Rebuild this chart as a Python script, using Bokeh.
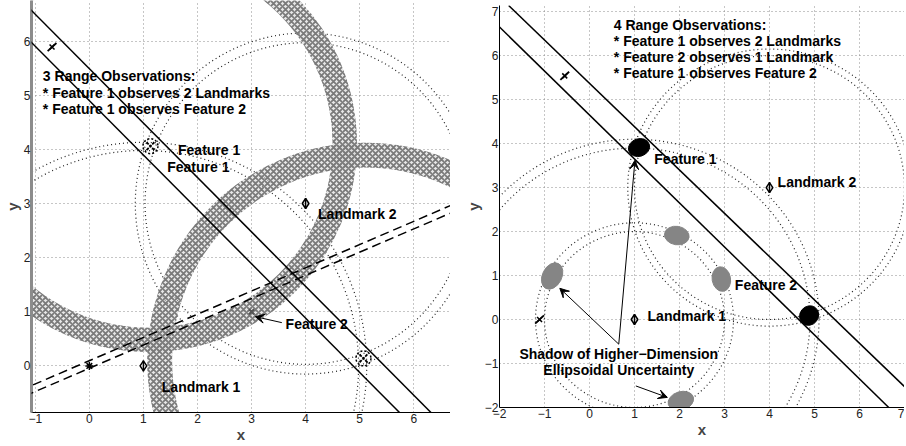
import numpy as np
from bokeh.plotting import figure
from bokeh.layouts import row
from bokeh.models import Slope, Arrow, VeeHead, FixedTicker, Range1d
from bokeh.embed import file_html
from bokeh.resources import INLINE
from bokeh.core.properties import value

FONT = "Liberation Sans"

# ---------------- Left panel data ----------------
left_landmark_x = [1.0, 4.0]
left_landmark_y = [0.0, 3.0]

left_range_cx = [1.0, 1.0, 4.0, 4.0]
left_range_cy = [0.0, 0.0, 3.0, 3.0]
left_range_r = [3.98, 4.13, 2.97, 3.15]

left_band_cx = [1.1, 5.1]
left_band_cy = [4.1, 0.1]
left_band_inner = [3.40, 3.57]
left_band_outer = [3.85, 4.03]

left_solid_slope = [-1.005, -1.004]
left_solid_icpt = [5.49, 4.90]
left_dashed_slope = [0.429, 0.429]
left_dashed_icpt = [0.097, -0.043]

left_feat1_x = [1.13, 5.07]
left_feat1_y = [4.06, 0.14]
left_feat2_x = [3.0]
left_feat2_y = [1.0]
left_origin_x = [0.0]
left_origin_y = [0.0]
left_robot_x = [-0.69]
left_robot_y = [5.89]

left_title = ["3 Range Observations:",
              "* Feature 1 observes 2 Landmarks",
              "* Feature 1 observes Feature 2"]
left_title_x = [-0.86, -0.86, -0.86]
left_title_y = [5.35, 5.04, 4.74]
left_labels = ["Feature 1", "Feature 1", "Landmark 2", "Feature 2", "Landmark 1"]
left_labels_x = [1.64, 1.44, 4.23, 3.63, 1.34]
left_labels_y = [3.99, 3.68, 2.80, 0.77, -0.39]
left_arrow = [(3.56, 0.80, 3.07, 0.91)]

left_xticks = [-1, 0, 1, 2, 3, 4, 5, 6]
left_yticks = [0, 1, 2, 3, 4, 5, 6]

# ---------------- Right panel data ----------------
right_landmark_x = [1.0, 4.0]
right_landmark_y = [0.0, 3.0]

right_range_cx = [1.0, 1.0, 1.0, 1.0, 4.0, 4.0]
right_range_cy = [0.0, 0.0, 0.0, 0.0, 3.0, 3.0]
right_range_r = [2.0, 2.2, 3.9, 4.1, 3.0, 3.15]

right_solid_slope = [-0.985, -1.0]
right_solid_icpt = [5.37, 4.65]

right_feat1_x = [1.10, 4.88]
right_feat1_y = [3.91, 0.09]
right_feat1_w = [0.48, 0.45]
right_feat1_h = [0.40, 0.42]
right_feat1_a = [0.3, 0.9]

right_shadow_x = [-0.83, 1.94, 2.93, 2.03]
right_shadow_y = [0.99, 1.91, 0.92, -1.85]
right_shadow_w = [0.62, 0.55, 0.55, 0.58]
right_shadow_h = [0.44, 0.42, 0.42, 0.42]
right_shadow_a = [1.1, -0.15, 1.75, 0.3]

right_robot_x = [-0.55, -1.11]
right_robot_y = [5.54, 0.0]

right_title = ["4 Range Observations:",
               "* Feature 1 observes 2 Landmarks",
               "* Feature 2 observes 1 Landmark",
               "* Feature 1 observes Feature 2"]
right_title_x = [0.54, 0.54, 0.54, 0.54]
right_title_y = [6.69, 6.33, 5.96, 5.61]
right_labels = ["Feature 1", "Landmark 2", "Landmark 1", "Feature 2"]
right_labels_x = [1.44, 4.18, 1.29, 3.23]
right_labels_y = [3.64, 3.13, 0.09, 0.79]
right_note = ["Shadow of Higher\u2212Dimension", "Ellipsoidal Uncertainty"]
right_note_x = [0.65, 0.65]
right_note_y = [-0.78, -1.14]
right_arrows = [(0.65, -0.56, -0.66, 0.71),
                (0.65, -0.56, 1.01, 3.62),
                (1.03, -1.51, 1.73, -1.77)]

right_ticks = [-2, -1, 0, 1, 2, 3, 4, 5, 6, 7]


def style(p, ticks_x, ticks_y, yaxis_color):
    p.xaxis.ticker = FixedTicker(ticks=ticks_x)
    p.yaxis.ticker = FixedTicker(ticks=ticks_y)
    over = {-1: "\u22121", -2: "\u22122"}
    p.xaxis.major_label_overrides = over
    p.yaxis.major_label_overrides = over
    p.axis.major_tick_in = 0
    p.axis.major_tick_out = 0
    p.axis.minor_tick_line_color = None
    p.axis.major_label_text_font = FONT
    p.axis.major_label_text_font_size = "12px"
    p.axis.major_label_text_color = "#222222"
    p.axis.major_label_standoff = 1
    p.axis.axis_label_text_font = FONT
    p.axis.axis_label_text_font_style = "bold"
    p.axis.axis_label_text_font_size = "15px"
    p.axis.axis_label_standoff = 0
    p.xaxis.axis_label = "x"
    p.yaxis.axis_label = "y"
    p.xaxis.axis_line_color = "black"
    p.yaxis.axis_line_color = yaxis_color
    p.grid.grid_line_color = "#8c8c8c"
    p.grid.grid_line_dash = "1 3"
    p.grid.grid_line_width = 1
    p.outline_line_color = None
    p.background_fill_color = "white"
    p.frame_align = False


def texts(p, xs, ys, t, align="left"):
    p.text(x=xs, y=ys, text=t, text_font=value(FONT), text_font_style="bold",
           text_font_size="14px", text_baseline="middle", text_align=align,
           text_color="black")


def landmarks(p, xs, ys):
    p.scatter(xs, ys, marker="diamond", size=10, fill_color=None,
              line_color="black", line_width=1.5)
    p.scatter(xs, ys, marker="dash", angle=np.pi / 2, size=11,
              line_color="black", line_width=1.5)


# ---------------- Left figure ----------------
p1 = figure(width=450, height=445, x_range=Range1d(-1.07, 6.68),
            y_range=Range1d(-0.86, 6.75), output_backend="svg",
            toolbar_location=None, min_border_left=20, min_border_right=0,
            min_border_top=0, min_border_bottom=0)
style(p1, left_xticks, left_yticks, "#8c8c8c")
p1.yaxis.axis_line_width = 3

p1.ellipse(x=left_range_cx, y=left_range_cy,
           width=[2 * r for r in left_range_r], height=[2 * r for r in left_range_r],
           fill_color=None, line_color="#222222", line_dash="1 3", line_width=1.2)
p1.annulus(x=left_band_cx, y=left_band_cy, inner_radius=left_band_inner,
           outer_radius=left_band_outer, fill_color="#cfcfcf", fill_alpha=0.5,
           line_color=None, hatch_pattern="diagonal_cross", hatch_color="#7a7a7a",
           hatch_scale=6, hatch_weight=1.8)
for s, b in zip(left_solid_slope, left_solid_icpt):
    p1.add_layout(Slope(gradient=s, y_intercept=b, line_color="black", line_width=1.5))
for s, b in zip(left_dashed_slope, left_dashed_icpt):
    p1.add_layout(Slope(gradient=s, y_intercept=b, line_color="black", line_width=1.5,
                        line_dash="9 5"))
p1.scatter(left_feat1_x, left_feat1_y, marker="circle", size=15, fill_color=None,
           line_color="black", line_dash="2 2", line_width=1.5)
p1.scatter(left_feat1_x, left_feat1_y, marker="x", size=11, line_color="black",
           line_width=1.8, line_dash="3 1")
p1.scatter(left_feat2_x, left_feat2_y, marker="x", size=7, line_color="#555555",
           line_width=2)
p1.scatter(left_origin_x, left_origin_y, marker="asterisk", size=8,
           line_color="black", line_width=1.5)
p1.scatter(left_robot_x, left_robot_y, marker="dash", angle=0.75, size=12,
           line_color="black", line_width=1.8)
p1.scatter(left_robot_x, left_robot_y, marker="x", size=7,
           line_color="black", line_width=1.5)
landmarks(p1, left_landmark_x, left_landmark_y)
texts(p1, left_title_x, left_title_y, left_title)
texts(p1, left_labels_x, left_labels_y, left_labels)
for (xs, ys, xe, ye) in left_arrow:
    p1.add_layout(Arrow(x_start=xs, y_start=ys, x_end=xe, y_end=ye, line_width=1,
                        end=VeeHead(size=9, fill_color="black", line_color="black")))

# ---------------- Right figure ----------------
p2 = figure(width=454, height=440, x_range=Range1d(-2, 7), y_range=Range1d(-2.0, 7.14),
            output_backend="svg", toolbar_location=None, min_border_left=49,
            min_border_right=0, min_border_top=5, min_border_bottom=0)
style(p2, right_ticks, right_ticks, "black")

p2.ellipse(x=right_range_cx, y=right_range_cy,
           width=[2 * r for r in right_range_r], height=[2 * r for r in right_range_r],
           fill_color=None, line_color="#222222", line_dash="1 3", line_width=1.2)
for s, b in zip(right_solid_slope, right_solid_icpt):
    p2.add_layout(Slope(gradient=s, y_intercept=b, line_color="black", line_width=1.5))
p2.ellipse(x=right_shadow_x, y=right_shadow_y, width=right_shadow_w,
           height=right_shadow_h, angle=right_shadow_a, fill_color="#858585",
           line_color="#858585")
p2.ellipse(x=right_feat1_x, y=right_feat1_y, width=right_feat1_w,
           height=right_feat1_h, angle=right_feat1_a, fill_color="black",
           line_color="black")
p2.scatter(right_robot_x, right_robot_y, marker="dash", angle=0.75, size=12,
           line_color="black", line_width=1.8)
p2.scatter(right_robot_x, right_robot_y, marker="x", size=7,
           line_color="black", line_width=1.5)
landmarks(p2, right_landmark_x, right_landmark_y)
texts(p2, right_title_x, right_title_y, right_title)
texts(p2, right_labels_x, right_labels_y, right_labels)
texts(p2, right_note_x, right_note_y, right_note, align="center")
for (xs, ys, xe, ye) in right_arrows:
    p2.add_layout(Arrow(x_start=xs, y_start=ys, x_end=xe, y_end=ye, line_width=1,
                        end=VeeHead(size=9, fill_color="black", line_color="black")))

layout = row(p1, p2)
open("out.html", "w").write(file_html(layout, INLINE))
